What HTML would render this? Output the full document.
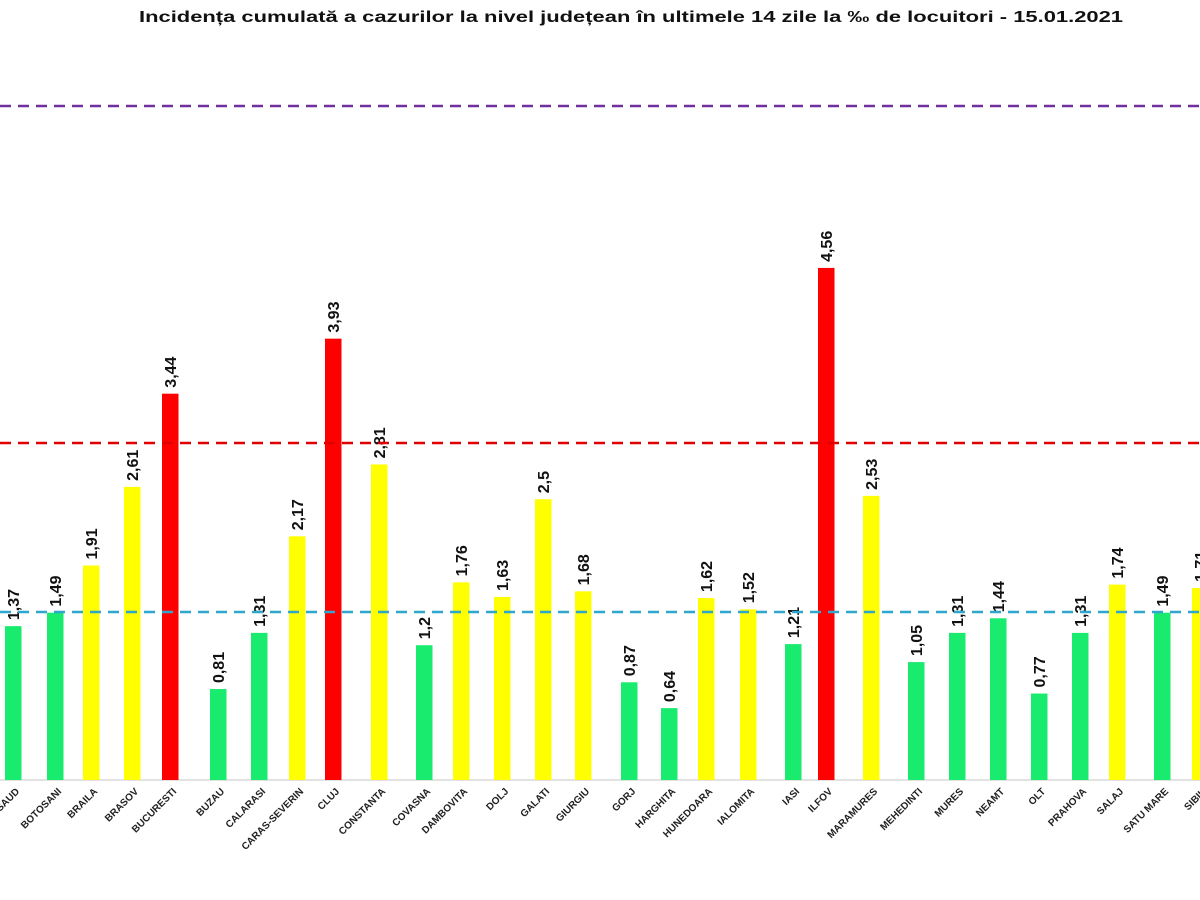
<!DOCTYPE html>
<html><head><meta charset="utf-8"><style>
html,body{margin:0;padding:0;background:#fff;width:1200px;height:900px;overflow:hidden}
svg{display:block;font-family:"Liberation Sans",sans-serif}
</style></head><body>
<svg id="c" width="1200" height="900" xmlns="http://www.w3.org/2000/svg">
<text x="631" y="22" text-anchor="middle" font-size="16" font-weight="bold" fill="#111" textLength="984" lengthAdjust="spacingAndGlyphs">Incidența cumulată a cazurilor la nivel județean în ultimele 14 zile    la ‰ de locuitori  - 15.01.2021</text>
<line x1="0" y1="780" x2="1200" y2="780" stroke="#d9d9d9" stroke-width="1.5"/>
<g id="bars"></g>
<line x1="0" y1="106" x2="1200" y2="106" stroke="#7030a0" stroke-width="2.5" stroke-dasharray="11,7"/>
<line x1="0" y1="443" x2="1200" y2="443" stroke="#e00000" stroke-width="2.5" stroke-dasharray="11,7"/>
<line x1="0" y1="612" x2="1200" y2="612" stroke="#2fa6cc" stroke-width="2.5" stroke-dasharray="11,7"/>
</svg>
<script>
var d=[
["BISTRITA-NASAUD",13,1.37],["BOTOSANI",55,1.49],["BRAILA",91,1.91],["BRASOV",132,2.61],["BUCURESTI",170,3.44],
["BUZAU",218,0.81],["CALARASI",259,1.31],["CARAS-SEVERIN",297,2.17],["CLUJ",333,3.93],["CONSTANTA",379,2.81],
["COVASNA",424,1.2],["DAMBOVITA",461,1.76],["DOLJ",502,1.63],["GALATI",543,2.5],["GIURGIU",583,1.68],
["GORJ",629,0.87],["HARGHITA",669,0.64],["HUNEDOARA",706,1.62],["IALOMITA",748,1.52],["IASI",793,1.21],
["ILFOV",826,4.56],["MARAMURES",871,2.53],["MEHEDINTI",916,1.05],["MURES",957,1.31],["NEAMT",998,1.44],
["OLT",1039,0.77],["PRAHOVA",1080,1.31],["SALAJ",1117,1.74],["SATU MARE",1162,1.49],["SIBIU",1200,1.71]];
var g=document.getElementById('bars'),s='';
d.forEach(function(r){
 var n=r[0],cx=r[1],v=r[2],h=v*112.3,y=780-h;
 var col=v>=3?'#ff0000':(v>=1.5?'#ffff00':'#18eb6e');
 s+='<rect x="'+(cx-8)+'" y="'+y+'" width="16.5" height="'+h+'" fill="'+col+'"/>';
 var lbl=String(v).replace('.',',');
 s+='<text transform="translate('+(cx+6)+','+(y-6)+') rotate(-90)" font-size="16" font-weight="bold" fill="#111">'+lbl+'</text>';
 s+='<text transform="translate('+(cx+7)+',792) rotate(-45)" text-anchor="end" font-size="10" font-weight="bold" fill="#222">'+n+'</text>';
});
g.innerHTML=s;
</script>
</body></html>
